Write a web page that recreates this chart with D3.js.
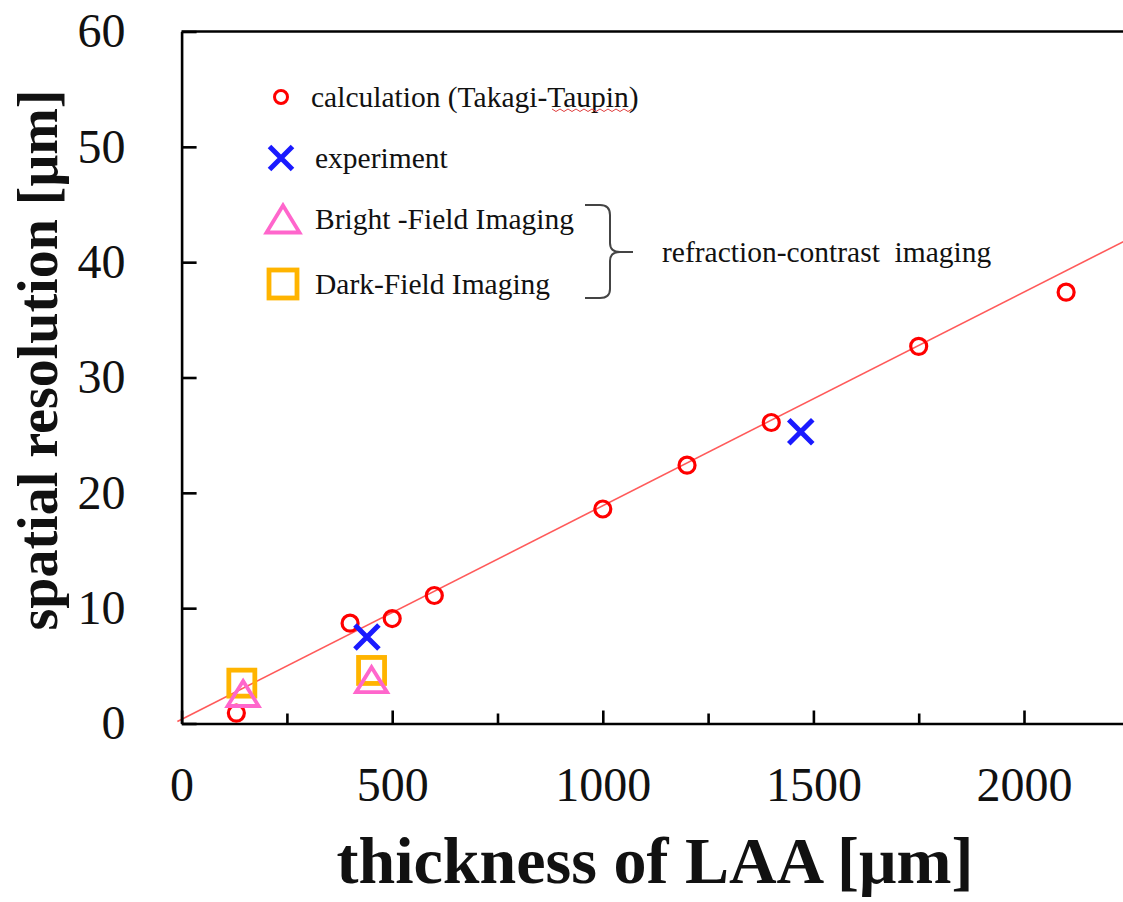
<!DOCTYPE html>
<html>
<head>
<meta charset="utf-8">
<script src="https://cdn.jsdelivr.net/npm/d3@7"></script>
<style>
  body { margin: 0; background: #fff; }
  svg { display: block; }
  text { font-family: "Liberation Serif", "Times New Roman", serif; fill: #111; }
</style>
</head>
<body>
<svg width="1123" height="902"></svg>
<script>
// thickness of LAA [um] vs spatial resolution [um]
var calcX = [130, 400, 500, 600, 1000, 1200, 1400, 1750, 2100];
var calcY = [0.9, 8.7, 9.1, 11.1, 18.6, 22.4, 26.1, 32.7, 37.4];

var expX = [440, 1470];
var expY = [7.5, 25.3];

var brightX = [146, 451];
var brightY = [2.6, 3.8];

var darkX = [143, 451];
var darkY = [3.5, 4.6];

// fitted line through the calculation, two ends
var fitX = [-10, 2250];
var fitY = [0.17, 42.04];

var xTicks = [0, 250, 500, 750, 1000, 1250, 1500, 1750, 2000];
var yTicks = [0, 10, 20, 30, 40, 50, 60];

var legendLabels = ["calculation (Takagi-Taupin)", "experiment", "Bright -Field Imaging", "Dark-Field Imaging"];
var groupLabel = "refraction-contrast  imaging";

var svg = d3.select("svg"),
    width = +svg.attr("width"),
    height = +svg.attr("height");

var x = d3.scaleLinear().domain([0, 2250]).range([181.6, 1129.3]);
var y = d3.scaleLinear().domain([0, 60]).range([723.5, 31.5]);

function zip(xs, ys) { return xs.map(function(v, i) { return {x: v, y: ys[i]}; }); }

var red = "#ff0000", blue = "#1a1aff", pink = "#ff66cc", gold = "#ffb400";

// fit line
svg.append("path")
    .datum(zip(fitX, fitY))
    .attr("fill", "none")
    .attr("stroke", "#ff5a5a")
    .attr("stroke-width", 1.6)
    .attr("d", d3.line().x(function(d) { return x(d.x); }).y(function(d) { return y(d.y); }));

// axes
var xAxis = svg.append("g")
    .attr("transform", "translate(0," + y(0) + ")")
    .call(d3.axisBottom(x)
        .tickValues(xTicks)
        .tickSize(-13)
        .tickSizeOuter(0)
        .tickPadding(43)
        .tickFormat(function(d) { return d % 500 === 0 ? d : ""; }));

xAxis.selectAll(".tick line")
    .attr("y2", function(d) { return d % 500 === 0 ? -13 : -10; });

var yAxis = svg.append("g")
    .attr("transform", "translate(" + x(0) + ",0)")
    .call(d3.axisLeft(y)
        .tickValues(yTicks)
        .tickSize(-15)
        .tickSizeOuter(0)
        .tickPadding(56)
        .tickFormat(d3.format("d")));

svg.selectAll(".domain, .tick line").attr("stroke", "#000").attr("stroke-width", 2.6);
svg.selectAll(".tick text")
    .attr("font-size", 48)
    .attr("font-family", "Liberation Serif, Times New Roman, serif")
    .attr("fill", "#111");

// top frame line
svg.append("line")
    .attr("x1", x(0)).attr("x2", x(2250))
    .attr("y1", y(60)).attr("y2", y(60))
    .attr("stroke", "#000").attr("stroke-width", 2.6);

// axis titles
svg.append("text")
    .attr("x", 655).attr("y", 883)
    .attr("text-anchor", "middle")
    .attr("font-size", 66).attr("font-weight", "bold")
    .text("thickness of LAA [\u03bcm]");

svg.append("text")
    .attr("transform", "translate(57,360) rotate(-90)")
    .attr("text-anchor", "middle")
    .attr("font-size", 56).attr("font-weight", "bold")
    .text("spatial resolution [\u03bcm]");

// markers
function cross(g, s, w) {
  g.append("path")
      .attr("d", "M" + (-s) + "," + (-s) + "L" + s + "," + s + "M" + (-s) + "," + s + "L" + s + "," + (-s))
      .attr("stroke", blue).attr("stroke-width", w).attr("fill", "none");
}
function tri(g, w, h) {
  g.append("path")
      .attr("d", "M0," + (-h / 2) + "L" + (w / 2) + "," + (h / 2) + "L" + (-w / 2) + "," + (h / 2) + "Z")
      .attr("stroke", pink).attr("stroke-width", 3.8).attr("fill", "none");
}
function sq(g, s) {
  g.append("rect")
      .attr("x", -s / 2).attr("y", -s / 2).attr("width", s).attr("height", s)
      .attr("stroke", gold).attr("stroke-width", 4.8).attr("fill", "none");
}

svg.append("g").selectAll("circle")
    .data(zip(calcX, calcY))
    .enter().append("circle")
      .attr("cx", function(d) { return x(d.x); })
      .attr("cy", function(d) { return y(d.y); })
      .attr("r", 8)
      .attr("fill", "none")
      .attr("stroke", red)
      .attr("stroke-width", 3.2);

svg.append("g").selectAll("g")
    .data(zip(darkX, darkY))
    .enter().append("g")
      .attr("transform", function(d) { return "translate(" + x(d.x) + "," + y(d.y) + ")"; })
      .each(function() { sq(d3.select(this), 26); });

svg.append("g").selectAll("g")
    .data(zip(brightX, brightY))
    .enter().append("g")
      .attr("transform", function(d) { return "translate(" + x(d.x) + "," + y(d.y) + ")"; })
      .each(function() { tri(d3.select(this), 31, 25); });

svg.append("g").selectAll("g")
    .data(zip(expX, expY))
    .enter().append("g")
      .attr("transform", function(d) { return "translate(" + x(d.x) + "," + y(d.y) + ")"; })
      .each(function() { cross(d3.select(this), 12, 5); });

// legend
var legendY = [97, 158, 219, 284];
var legend = svg.append("g");

legend.append("circle")
    .attr("cx", 281).attr("cy", legendY[0]).attr("r", 6.5)
    .attr("fill", "none").attr("stroke", red).attr("stroke-width", 3);
cross(legend.append("g").attr("transform", "translate(281," + legendY[1] + ")"), 11.5, 5);
tri(legend.append("g").attr("transform", "translate(283," + legendY[2] + ")"), 33, 27);
sq(legend.append("g").attr("transform", "translate(283," + legendY[3] + ")"), 28);

legend.selectAll("text.lab")
    .data(legendLabels)
    .enter().append("text")
      .attr("class", "lab")
      .attr("x", function(d, i) { return i === 0 ? 311 : 315; })
      .attr("y", function(d, i) { return legendY[i] + 10; })
      .attr("font-size", 29.5)
      .attr("fill", "#1a1a1a")
      .text(function(d) { return d; });

// spell-check squiggle under "Taupin"
var sq_pts = d3.range(0, 21).map(function(i) { return [552 + i * 4, 110 + (i % 2 ? 1.5 : -1)]; });
legend.append("path")
    .attr("d", d3.line()(sq_pts))
    .attr("fill", "none")
    .attr("stroke", "#e04040")
    .attr("stroke-width", 1);

// brace
legend.append("path")
    .attr("d", "M585,205 L600,205 Q610,205 610,215 L610,243 Q610,252 620,252 L633,252 M620,252 Q610,252 610,261 L610,289 Q610,298 600,298 L585,298")
    .attr("fill", "none")
    .attr("stroke", "#444")
    .attr("stroke-width", 2);

legend.append("text")
    .attr("x", 662).attr("y", 262)
    .attr("font-size", 29.5)
    .attr("fill", "#1a1a1a")
    .attr("xml:space", "preserve")
    .style("white-space", "pre")
    .text(groupLabel);
</script>
</body>
</html>
